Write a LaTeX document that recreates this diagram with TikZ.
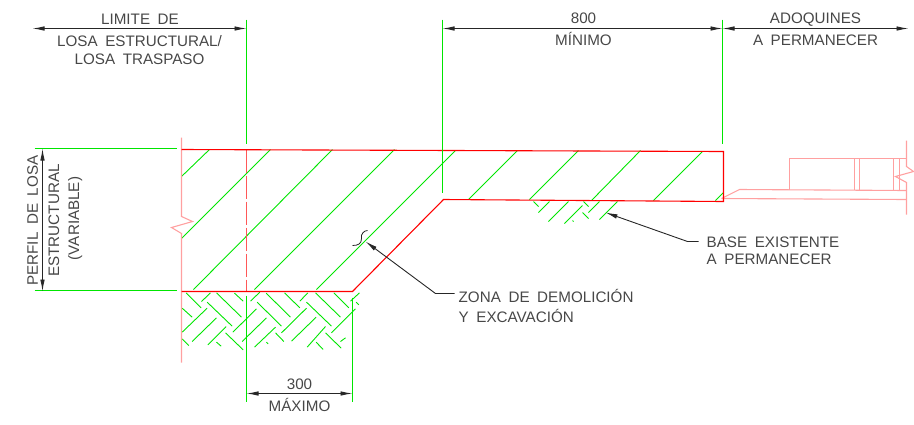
\documentclass[tikz,border=0pt]{standalone}
\usepackage{fontspec}
\setmainfont{Liberation Sans}[WordSpace=1.8]
\usetikzlibrary{arrows.meta}
\definecolor{cadgreen}{RGB}{0,230,0}
\definecolor{cadpink}{RGB}{255,160,160}
\tikzset{
  outline/.style={draw=red,line width=1.1pt,line join=miter},
  ghost/.style={draw=cadpink,line width=1.1pt},
  guide/.style={draw=cadgreen,line width=1.4pt},
  hatchline/.style={draw=cadgreen,line width=.9pt},
  dimline/.style={draw=black!85,line width=.9pt,{Latex[length=12pt,width=4.5pt]}-{Latex[length=12pt,width=4.5pt]}},
  leader/.style={draw=black!85,line width=.9pt,-{Latex[length=12pt,width=4.5pt]}},
  label/.style={text=black!72,font=\fontsize{15.2}{17}\selectfont,text height=11pt,text depth=0pt,inner sep=0pt},
}
\begin{document}
\begin{tikzpicture}[x=1pt,y=-1pt]
  \useasboundingbox (-.5,-.5) rectangle (913.5,423.5);
  % main points
  \coordinate (topleft) at (181,149);
  \coordinate (topright) at (723,151);
  \coordinate (botright) at (723,201);
  \coordinate (kink) at (443,199);
  \coordinate (toe) at (352,291);
  \coordinate (botleft) at (181,291);
  % hatch of the slab
  \foreach \xa/\ya/\xb/\yb in {181/176/209/149,181/238/270/149,193/289/332/149,254/289/394/149,
      316/289/455/150,468/199/517/150,529/199/578/150,591/200/640/150,653/200/702/151,715/200/723/192}
    \draw[hatchline] (\xa,\ya) -- (\xb,\yb);
  % hatch of the ground under the slab (up, then down)
  \foreach \xa/\ya/\xb/\yb in {93/63/120/37,35/155/110/83,65/183/138/112,112/193/167/138,187/155/258/85,
      215/183/288/112,252/200/315/140,240/62/268/35,333/157/408/83,363/182/437/110,410/200/465/138,
      388/62/412/37,483/157/555/85,510/183/525/172,540/62/567/37,
      47/37/92/82,138/37/213/110,110/65/185/137,35/83/65/110,165/157/218/208,35/175/55/195,138/185/152/197,
      192/38/218/62,287/38/360/110,260/65/333/137,342/37/388/82,435/37/510/110,408/65/483/137,490/37/535/82,
      315/157/340/183,465/157/512/203,437/185/458/207,557/65/565/73,288/185/293/190}
    \draw[hatchline] ({170+\xa/3},{280+\ya/3}) -- ({170+\xb/3},{280+\yb/3});
  % hatch of the existing base
  \foreach \xa/\ya/\xb/\yb in {538/212/549/201,548/221/568/201,564/223/582/205,588/212/599/201,599/219/617/201,
      533/201/538/206,583/201/588/206,582/212/588/218,572/220/573/221}
    \draw[hatchline] (\xa,\ya) -- (\xb,\yb);
  % cut lines
  \draw[ghost] (181,137) -- (181,216) -- (192,221) -- (171,227) -- (181,233) -- (181,362);
  \draw[outline,draw=red!45!cadpink,dash pattern=on 23pt off 3pt] (246,149) -- (246,290);
  % pavers
  \coordinate (pavea) at (739,189);
  \coordinate (paveb) at (721,198);
  \draw[ghost] (paveb) -- (pavea) -- (906,190);
  \draw[ghost] (paveb) -- (906,199);
  \draw[ghost] (789,189) -- (789,158) -- (906,158);
  \foreach \xa in {854,859,893,899}
    \draw[ghost] (\xa,158) -- (\xa,189);
  \draw[ghost] (906,140) -- (906,166) -- (913,171) -- (895,176) -- (906,182) -- (906,214);
  % slab
  \draw[outline] (topleft) -- (topright) -- (botright) -- (kink) -- (toe) -- (botleft);
  % extension lines
  \draw[guide] (246,19) coordinate (limtop) -- (246,143);
  \draw[guide] (246,295) -- (246,401) coordinate (maxleft);
  \draw[guide] (352,297) -- (352,401) coordinate (maxright);
  \draw[guide] (442,19) coordinate (mintop) -- (442,192);
  \draw[guide] (722,19) coordinate (adotop) -- (722,143);
  \draw[guide] (34,148) coordinate (perfa) -- (176,148);
  \draw[guide] (34,290) coordinate (perfb) -- (176,290);
  % dimensions
  \coordinate (lima) at (32,28);
  \coordinate (limb) at (246,28);
  \coordinate (mina) at (442,28);
  \coordinate (minb) at (722,28);
  \coordinate (adob) at (908,28);
  \coordinate (vera) at (42,148);
  \coordinate (verb) at (42,291);
  \coordinate (maxa) at (246,393);
  \coordinate (maxb) at (352,393);
  \draw[dimline] (lima) -- (limb);
  \draw[dimline] (mina) -- (minb);
  \draw[dimline] (minb) -- (adob);
  \draw[dimline] (vera) -- (verb);
  \draw[dimline] (maxa) -- (maxb);
  % labels
  \node[label] (limit) at (139.5,18) {LIMITE DE};
  \node[label] (losaest) at (139,40) {LOSA ESTRUCTURAL/};
  \node[label] (losatra) at (139,58) {LOSA TRASPASO};
  \node[label] (ochoc) at (583,17) {800};
  \node[label] (minimo) at (583,39) {MÍNIMO};
  \node[label] (adoq) at (815,17) {ADOQUINES};
  \node[label] (aperm) at (815,39) {A PERMANECER};
  \node[label] (tresc) at (299,383) {300};
  \node[label] (maximo) at (299,405) {MÁXIMO};
  \node[label,rotate=90] (perfil) at (32,220) {PERFIL DE LOSA};
  \node[label,rotate=90] (estruct) at (53,220) {ESTRUCTURAL};
  \node[label,rotate=90] (varia) at (73,218) {(VARIABLE)};
  \node[label,anchor=west] (zona) at (458,296) {ZONA DE DEMOLICIÓN};
  \node[label,anchor=west] (excav) at (458,316) {Y EXCAVACIÓN};
  \node[label,anchor=west] (base) at (706,241) {BASE EXISTENTE};
  \node[label,anchor=west] (bperm) at (706,258) {A PERMANECER};
  % leaders
  \coordinate (zonaknee) at (435,293);
  \coordinate (zonatip) at (365,241);
  \coordinate (baseknee) at (687,241);
  \coordinate (basetip) at (605,212);
  \draw[leader] (zona.west) ++(-4,-3) -- (zonaknee) -- (zonatip);
  \draw[leader] (base.west) ++(-8,0) -- (baseknee) -- (basetip);
  % break mark
  \draw[draw=black!85,line width=.8pt] (352,245) .. controls (358,245) and (361,243) .. (361,238) .. controls (360,233) and (364,230) .. (367,230);
\end{tikzpicture}
\end{document}
